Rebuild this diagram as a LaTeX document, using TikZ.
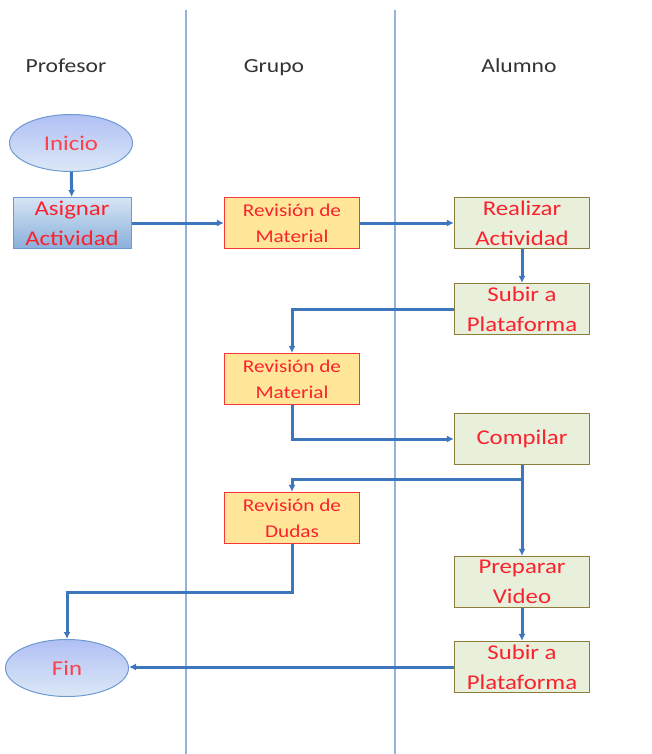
\documentclass[tikz,border=0pt]{standalone}
\usepackage{fontspec}
\setmainfont{Carlito}
\newfontfamily\wideface{Carlito}[FakeStretch=1.18]
\usetikzlibrary{arrows.meta,shapes.geometric}
\definecolor{flowblue}{RGB}{62,118,190}
\definecolor{lanecol}{RGB}{149,179,215}
\definecolor{textred}{RGB}{250,35,45}
\definecolor{startfill}{RGB}{197,217,241}
\definecolor{startline}{RGB}{108,155,210}
\definecolor{grupofill}{RGB}{255,230,153}
\definecolor{grupoline}{RGB}{245,55,55}
\definecolor{alumnofill}{RGB}{232,240,220}
\definecolor{alumnoline}{RGB}{140,125,60}
\tikzset{
  lane/.style={draw=lanecol, line width=1.5pt},
  header/.style={anchor=base, font=\wideface\fontsize{20}{24}\selectfont, text=black!80},
  terminal/.style={ellipse, draw=startline, line width=1pt, top color=startfill!85!blue!90, bottom color=startfill!60!white,
    minimum width=123pt, minimum height=57pt, inner sep=0pt, text=textred!80!pink, font=\wideface\fontsize{21}{25}\selectfont},
  profbox/.style={rectangle, draw=startline, line width=1pt, top color=startfill!70!white, bottom color=startline!80!white,
    minimum width=118pt, minimum height=51pt, inner sep=0pt, align=center, text=textred, font=\wideface\fontsize{21}{30}\selectfont},
  grupobox/.style={rectangle, draw=grupoline, line width=1.2pt, fill=grupofill,
    minimum width=135pt, minimum height=51pt, inner sep=0pt, align=center, text=textred, font=\wideface\fontsize{18}{26}\selectfont},
  alumnobox/.style={rectangle, draw=alumnoline, line width=1.2pt, fill=alumnofill,
    minimum width=135pt, minimum height=51pt, inner sep=0pt, align=center, text=textred, font=\wideface\fontsize{21}{30}\selectfont},
  flow/.style={draw=flowblue, line width=3pt, -{Latex[length=7pt,width=7pt]}}
}

\begin{document}
\begin{tikzpicture}[x=1pt, y=-1pt]
  \useasboundingbox (0,0) rectangle (651,754);
  \draw[lane] (186,10) -- (186,754);
  \draw[lane] (395,10) -- (395,754);

  \node[header] (profesor) at (66,73) {Profesor};
  \node[header] (grupo) at (274,73) {Grupo};
  \node[header] (alumno) at (519,73) {Alumno};

  \node[terminal] (inicio) at (71,143) {Inicio};
  \node[profbox] (asignar) at (72,223) {Asignar\\Actividad};
  \node[grupobox] (revmat1) at (292,223) {Revisión de\\Material};
  \node[alumnobox] (realizar) at (522,223) {Realizar\\Actividad};
  \node[alumnobox] (subir1) at (522,309) {Subir a\\Plataforma};
  \node[grupobox] (revmat2) at (292,379) {Revisión de\\Material};
  \node[alumnobox] (compilar) at (522,439) {Compilar};
  \node[grupobox] (dudas) at (292,518) {Revisión de\\Dudas};
  \node[alumnobox] (preparar) at (522,582) {Preparar\\Video};
  \node[alumnobox] (subir2) at (522,667) {Subir a\\Plataforma};
  \node[terminal] (fin) at (67,668) {Fin};

  \coordinate (split) at ([yshift=-14pt]compilar.south);
  \coordinate (bend) at ([yshift=-48pt]dudas.south);

  \draw[flow] (inicio) -- (asignar);
  \draw[flow] (asignar) -- (revmat1);
  \draw[flow] (revmat1) -- (realizar);
  \draw[flow] (realizar) -- (subir1);
  \draw[flow] (subir1.west) -| (revmat2.north);
  \draw[flow] (revmat2.south) |- (compilar.west);
  \draw[flow] (compilar.south) -- (preparar.north);
  \draw[flow] (split) -| (dudas.north);
  \draw[flow] (preparar) -- (subir2);
  \draw[flow] (dudas.south) -- (bend) -| (fin.north);
  \draw[flow] (subir2.west) -- (fin.east |- subir2.west);
\end{tikzpicture}
\end{document}
